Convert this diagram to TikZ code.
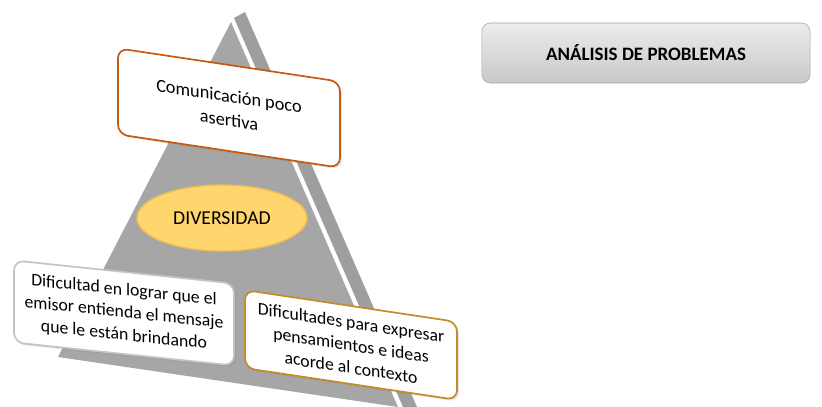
\documentclass[tikz,border=0pt]{standalone}
\usepackage{fontspec}
\setmainfont{Carlito}
\usepackage{tikz}
\usetikzlibrary{positioning,shadows,shapes.geometric}
\definecolor{facegray}{RGB}{166,166,166}
\definecolor{stripgray}{RGB}{158,158,158}
\definecolor{rustline}{RGB}{197,90,17}
\definecolor{goldline}{RGB}{196,140,40}
\definecolor{softline}{RGB}{196,196,196}
\definecolor{ellfill}{RGB}{255,214,110}
\definecolor{ellline}{RGB}{238,190,80}
\definecolor{titletop}{RGB}{236,236,236}
\definecolor{titlebot}{RGB}{200,200,200}

\begin{document}
\begin{tikzpicture}[x=0.025cm, y=-0.025cm,
    box/.style={rounded corners=7pt, fill=white, line width=1.2pt, align=center,
        inner sep=2pt, font=\fontsize{12.6}{16}\selectfont,
        drop shadow={opacity=0.2, shadow xshift=1.5pt, shadow yshift=-1.5pt}}]
         \useasboundingbox (0,0) rectangle (822,407);
         \clip (0,0) rectangle (822,407);

         % Draw pyramid
         \fill[facegray] (231,22) -- (58,357) -- (398,407) -- cycle;
         \fill[stripgray] (234,18) -- (245,12) -- (417,407) -- (403,407) -- cycle;

         % Define nodes
         \node[box, draw=rustline, yslant=-0.15, minimum width=5.55cm, minimum height=2.15cm,
             font=\fontsize{13}{17}\selectfont] (top) at (229,108) {Comunicación poco\\asertiva};
         \node[ellipse, draw=ellline, fill=ellfill, line width=1pt, minimum width=4.25cm,
             minimum height=1.65cm, font=\fontsize{14}{16}\selectfont] (center) at (222,218) {DIVERSIDAD};
         \node[box, draw=softline, yslant=-0.105, minimum width=5.5cm, minimum height=2.05cm]
             (left) at (124,313) {Dificultad en lograr que el\\emisor entienda el mensaje\\que le están brindando};
         \node[box, draw=goldline, yslant=-0.15, minimum width=5.3cm, minimum height=1.95cm]
             (right) at (351,345) {Dificultades para expresar\\pensamientos e ideas\\acorde al contexto};
         \node[rounded corners=6pt, draw=gray!70, top color=titletop, bottom color=titlebot,
             minimum width=8.2cm, minimum height=1.5cm, font=\bfseries\fontsize{13.5}{16}\selectfont]
             (title) at (646,53) {ANÁLISIS DE PROBLEMAS};
       \end{tikzpicture}
\end{document}
